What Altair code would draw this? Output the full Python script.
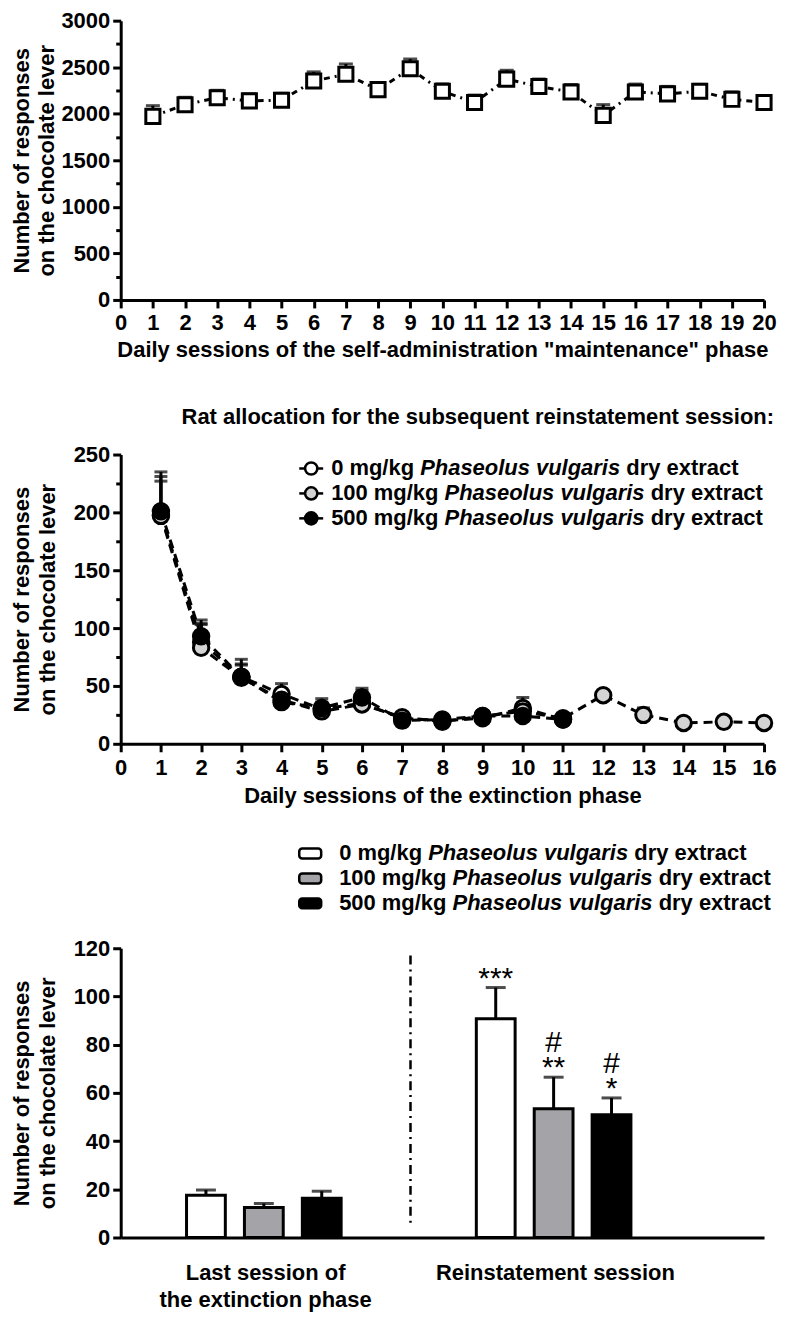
import altair as alt
import pandas as pd

FONT = "Liberation Sans"
FS = 22

# ---------------- Panel A: maintenance phase ----------------
maint_sessions = list(range(1, 21))
maint_mean = [1972, 2097, 2172, 2138, 2145, 2352, 2424, 2259, 2483, 2241,
              2121, 2372, 2293, 2234, 1983, 2234, 2214, 2241, 2155, 2121]
maint_sem = [115, 80, 80, 75, 75, 98, 111, 70, 105, 80,
             80, 95, 80, 80, 115, 85, 80, 75, 80, 70]

# ---------------- Panel B: extinction phase ----------------
doses = ["0 mg/kg", "100 mg/kg", "500 mg/kg"]
ext_sessions_0 = list(range(1, 12))
ext_mean_0 = [198, 88, 58, 43, 30, 35, 22, 20, 22, 31, 21]
ext_sem_0 = [37, 19, 15, 9, 9, 13, 4, 3, 4, 9, 3]
ext_sessions_100 = list(range(1, 17))
ext_mean_100 = [197, 83, 57, 38, 28, 34, 23, 19, 24, 28, 22, 42, 25, 18, 19, 18]
ext_sem_100 = [34, 20, 12, 8, 6, 8, 3, 3, 3, 5, 3, 2, 6, 1, 1, 1]
ext_sessions_500 = list(range(1, 12))
ext_mean_500 = [201, 93, 58, 36, 31, 40, 20, 21, 24, 24, 21]
ext_sem_500 = [26, 11, 10, 7, 5, 6, 2, 2, 3, 4, 4]

# ---------------- Panel C: reinstatement ----------------
phases = ["Last session of|the extinction phase", "Reinstatement session"]
last_mean = [17.5, 12.4, 16.3]
last_sem = [2.2, 1.7, 2.9]
rein_mean = [90.8, 53.4, 50.9]
rein_sem = [12.9, 13.1, 7.0]
rein_hash = ["", "#", "#"]
rein_stars = ["***", "**", "*"]

circle_fills = ["white", "#d4d4d4", "black"]
bar_fills = ["white", "#a4a4a8", "black"]
y_title = ["Number of responses", "on the chocolate lever"]
mid_legend_title = "Rat allocation for the subsequent reinstatement session:"
species = "Phaseolus vulgaris"
suffix = "dry extract"

# Arial/Liberation Sans Bold advance widths (1/1000 em) for legend layout
W_BOLD = {' ': 278, '0': 556, '1': 556, '5': 556, 'm': 889, 'g': 611, '/': 278,
          'k': 556, 'P': 667, 'h': 611, 'a': 556, 's': 556, 'e': 556, 'o': 611,
          'l': 278, 'u': 611, 'v': 556, 'r': 389, 'i': 278, 'd': 611, 'y': 556,
          'x': 556, 't': 333, 'c': 556}


def wbold(s, size):
    return sum(W_BOLD.get(c, 556) for c in s) * size / 1000.0


PLOT_W = 645
H_TOP, H_MID, H_BOT = 280, 290, 290
GAP1, GAP2 = 155, 205


def legend_text_row(x0, y, dose, size=FS):
    x1 = x0 + wbold(dose + " ", size)
    x2 = x1 + wbold(species + " ", size)
    parts = [(dose, x0, "normal"), (species, x1, "italic"), (suffix, x2, "normal")]
    layers = []
    for txt, xx, style in parts:
        layers.append(
            alt.Chart(pd.DataFrame({"t": [txt]}))
            .mark_text(align="left", baseline="middle", font=FONT, fontSize=size,
                       fontWeight="bold", fontStyle=style, color="black")
            .encode(x=alt.value(xx), y=alt.value(y), text="t:N")
        )
    return layers


def y_axis(maxv, major, minor, pad):
    return alt.Axis(
        values=list(range(0, maxv + 1, minor)),
        format="d",
        labelExpr=f"datum.value % {major} === 0 ? datum.label : ''",
        tickSize={"condition": {"test": f"datum.value % {major} === 0", "value": 8}, "value": 5},
        title=y_title,
        titlePadding=pad,
        titleLineHeight=26,
        labelPadding=3,
    )


# ================= Top chart =================
df_top = pd.DataFrame({"session": maint_sessions, "mean": maint_mean,
                       "upper": [m + s for m, s in zip(maint_mean, maint_sem)]})
x_top = alt.X("session:Q", scale=alt.Scale(domain=[0, 20], nice=False),
              axis=alt.Axis(values=list(range(0, 21)), tickSize=8, labelPadding=5,
                            title='Daily sessions of the self-administration "maintenance" phase',
                            titlePadding=6))
ysc_top = alt.Scale(domain=[0, 3000], nice=False)
yax_top = y_axis(3000, 500, 250, 2)
btop = alt.Chart(df_top)
top = alt.layer(
    btop.mark_rule(color="black", strokeWidth=3).encode(
        x=x_top, y=alt.Y("mean:Q", scale=ysc_top, axis=yax_top), y2="upper:Q"),
    btop.mark_tick(orient="horizontal", size=14, thickness=3, color="black").encode(
        x=x_top, y=alt.Y("upper:Q", scale=ysc_top, axis=yax_top)),
    btop.mark_line(color="black", strokeWidth=3, strokeDash=[6, 5, 2, 5]).encode(
        x=x_top, y=alt.Y("mean:Q", scale=ysc_top, axis=yax_top)),
    btop.mark_square(size=200, color="white", stroke="black", strokeWidth=3, opacity=1).encode(
        x=x_top, y=alt.Y("mean:Q", scale=ysc_top, axis=yax_top)),
).properties(width=PLOT_W, height=H_TOP)

# ================= Middle chart =================
rows = []
for d, ss, mm, ee in [(doses[0], ext_sessions_0, ext_mean_0, ext_sem_0),
                      (doses[1], ext_sessions_100, ext_mean_100, ext_sem_100),
                      (doses[2], ext_sessions_500, ext_mean_500, ext_sem_500)]:
    for s, m, e in zip(ss, mm, ee):
        rows.append({"session": s, "dose": d, "mean": m, "upper": m + e})
df_mid = pd.DataFrame(rows)
x_mid = alt.X("session:Q", scale=alt.Scale(domain=[0, 16], nice=False),
              axis=alt.Axis(values=list(range(0, 17)), tickSize=8, labelPadding=6,
                            title="Daily sessions of the extinction phase", titlePadding=7))
ysc_mid = alt.Scale(domain=[0, 250], nice=False)
yax_mid = y_axis(250, 50, 25, 14)
fill_mid = alt.Fill("dose:N", scale=alt.Scale(domain=doses, range=circle_fills), legend=None)
bmid = alt.Chart(df_mid)
mid_layers = [
    bmid.mark_rule(color="black", strokeWidth=3).encode(
        x=x_mid, y=alt.Y("mean:Q", scale=ysc_mid, axis=yax_mid), y2="upper:Q"),
    bmid.mark_tick(orient="horizontal", size=13, thickness=3, color="black").encode(
        x=x_mid, y=alt.Y("upper:Q", scale=ysc_mid, axis=yax_mid)),
    bmid.mark_line(color="black", strokeWidth=3, strokeDash=[9, 6]).encode(
        x=x_mid, y=alt.Y("mean:Q", scale=ysc_mid, axis=yax_mid), detail="dose:N"),
    bmid.mark_circle(size=240, stroke="black", strokeWidth=3, opacity=1).encode(
        x=x_mid, y=alt.Y("mean:Q", scale=ysc_mid, axis=yax_mid), fill=fill_mid),
    alt.Chart(pd.DataFrame({"t": [mid_legend_title]})).mark_text(
        align="right", baseline="middle", font=FONT, fontSize=FS, fontWeight="bold",
        color="black").encode(x=alt.value(655), y=alt.value(-38), text="t:N"),
]
for i, d in enumerate(doses):
    ry = 14 + 25 * i
    sx = 191
    mid_layers.append(
        alt.Chart(pd.DataFrame({"d": [d]})).mark_rule(color="black", strokeWidth=2.5).encode(
            x=alt.value(sx - 12), x2=alt.value(sx + 12), y=alt.value(ry)))
    mid_layers.append(
        alt.Chart(pd.DataFrame({"d": [d]})).mark_circle(
            size=150, stroke="black", strokeWidth=2.5, opacity=1, fill=circle_fills[i]).encode(
            x=alt.value(sx), y=alt.value(ry)))
    mid_layers += legend_text_row(211, ry, d)
mid = alt.layer(*mid_layers).properties(width=PLOT_W, height=H_MID)

# ================= Bottom chart =================
brows = []
for pi, (means, sems) in enumerate([(last_mean, last_sem), (rein_mean, rein_sem)]):
    for di, d in enumerate(doses):
        brows.append({"phase": phases[pi], "dose": d, "mean": means[di],
                      "upper": means[di] + sems[di],
                      "mark": (rein_hash[di] + "\n" + rein_stars[di]) if pi == 1 else ""})
df_bot = pd.DataFrame(brows)
xsc_bot = alt.Scale(paddingInner=0, paddingOuter=0.11, align=0)
xax_bot = alt.Axis(title=None, ticks=False, labelAngle=0, labelPadding=25,
                   labelExpr="split(datum.label, '|')", labelLineHeight=27,
                   labelBaseline="top", labelLimit=400)
x_bot = alt.X("phase:N", sort=phases, scale=xsc_bot, axis=xax_bot)
xo_bot = alt.XOffset("dose:N", sort=doses,
                     scale=alt.Scale(range=[66, 221], paddingInner=0.33, paddingOuter=0))
ysc_bot = alt.Scale(domain=[0, 120], nice=False)
yax_bot = y_axis(120, 20, 10, 14)
fill_bot = alt.Fill("dose:N", scale=alt.Scale(domain=doses, range=bar_fills), legend=None)
bbot = alt.Chart(df_bot)
bot_layers = [
    bbot.mark_rule(color="black", strokeWidth=3).encode(
        x=x_bot, xOffset=xo_bot, y=alt.Y("mean:Q", scale=ysc_bot, axis=yax_bot), y2="upper:Q"),
    bbot.mark_tick(orient="horizontal", size=20, thickness=3, color="black").encode(
        x=x_bot, xOffset=xo_bot, y=alt.Y("upper:Q", scale=ysc_bot, axis=yax_bot)),
    bbot.mark_bar(stroke="black", strokeWidth=3).encode(
        x=x_bot, xOffset=xo_bot, y=alt.Y("mean:Q", scale=ysc_bot, axis=yax_bot), fill=fill_bot),
    bbot.mark_text(font=FONT, fontSize=30, color="black", baseline="bottom", dy=-19,
                   lineBreak="\n", lineHeight=25).encode(
        x=x_bot, xOffset=xo_bot, y=alt.Y("upper:Q", scale=ysc_bot, axis=yax_bot), text="mark:N"),
    alt.Chart(pd.DataFrame({"phase": [phases[1]]})).mark_rule(
        color="black", strokeWidth=2.5, strokeDash=[9, 5, 2, 5]).encode(
        x=alt.X("phase:N", sort=phases, scale=xsc_bot, bandPosition=0, axis=xax_bot),
        y=alt.datum(117), y2=alt.datum(4)),
]
for i, d in enumerate(doses):
    ry = -95 + 25 * i
    rx = 190
    bot_layers.append(
        alt.Chart(pd.DataFrame({"d": [d]})).mark_rect(
            stroke="black", strokeWidth=2.5, fill=bar_fills[i], cornerRadius=3).encode(
            x=alt.value(rx - 11), x2=alt.value(rx + 11), y=alt.value(ry - 5), y2=alt.value(ry + 5)))
    bot_layers += legend_text_row(219, ry, d)
bot = alt.layer(*bot_layers).properties(width=PLOT_W, height=H_BOT)


def spacer(h):
    return alt.Chart(pd.DataFrame({"v": [0]})).mark_point(opacity=0).encode(
        x=alt.value(0), y=alt.value(0)).properties(width=PLOT_W, height=h)


chart = alt.vconcat(top, spacer(GAP1), mid, spacer(GAP2), bot, spacing=0, bounds="flush").resolve_scale(
    fill="independent"
).properties(
    padding={"left": 2, "top": 0, "right": 0, "bottom": 0}
).configure_view(strokeWidth=0).configure_axis(
    domainColor="black", domainWidth=3, tickColor="black", tickWidth=3,
    labelColor="black", labelFont=FONT, labelFontSize=FS, labelFontWeight="bold",
    titleFont=FONT, titleFontSize=FS, titleFontWeight="bold", titleColor="black",
    grid=False, labelFlush=False, labelOverlap=False,
)

chart.save("out.html", embed_options={"renderer": "svg", "actions": False})
